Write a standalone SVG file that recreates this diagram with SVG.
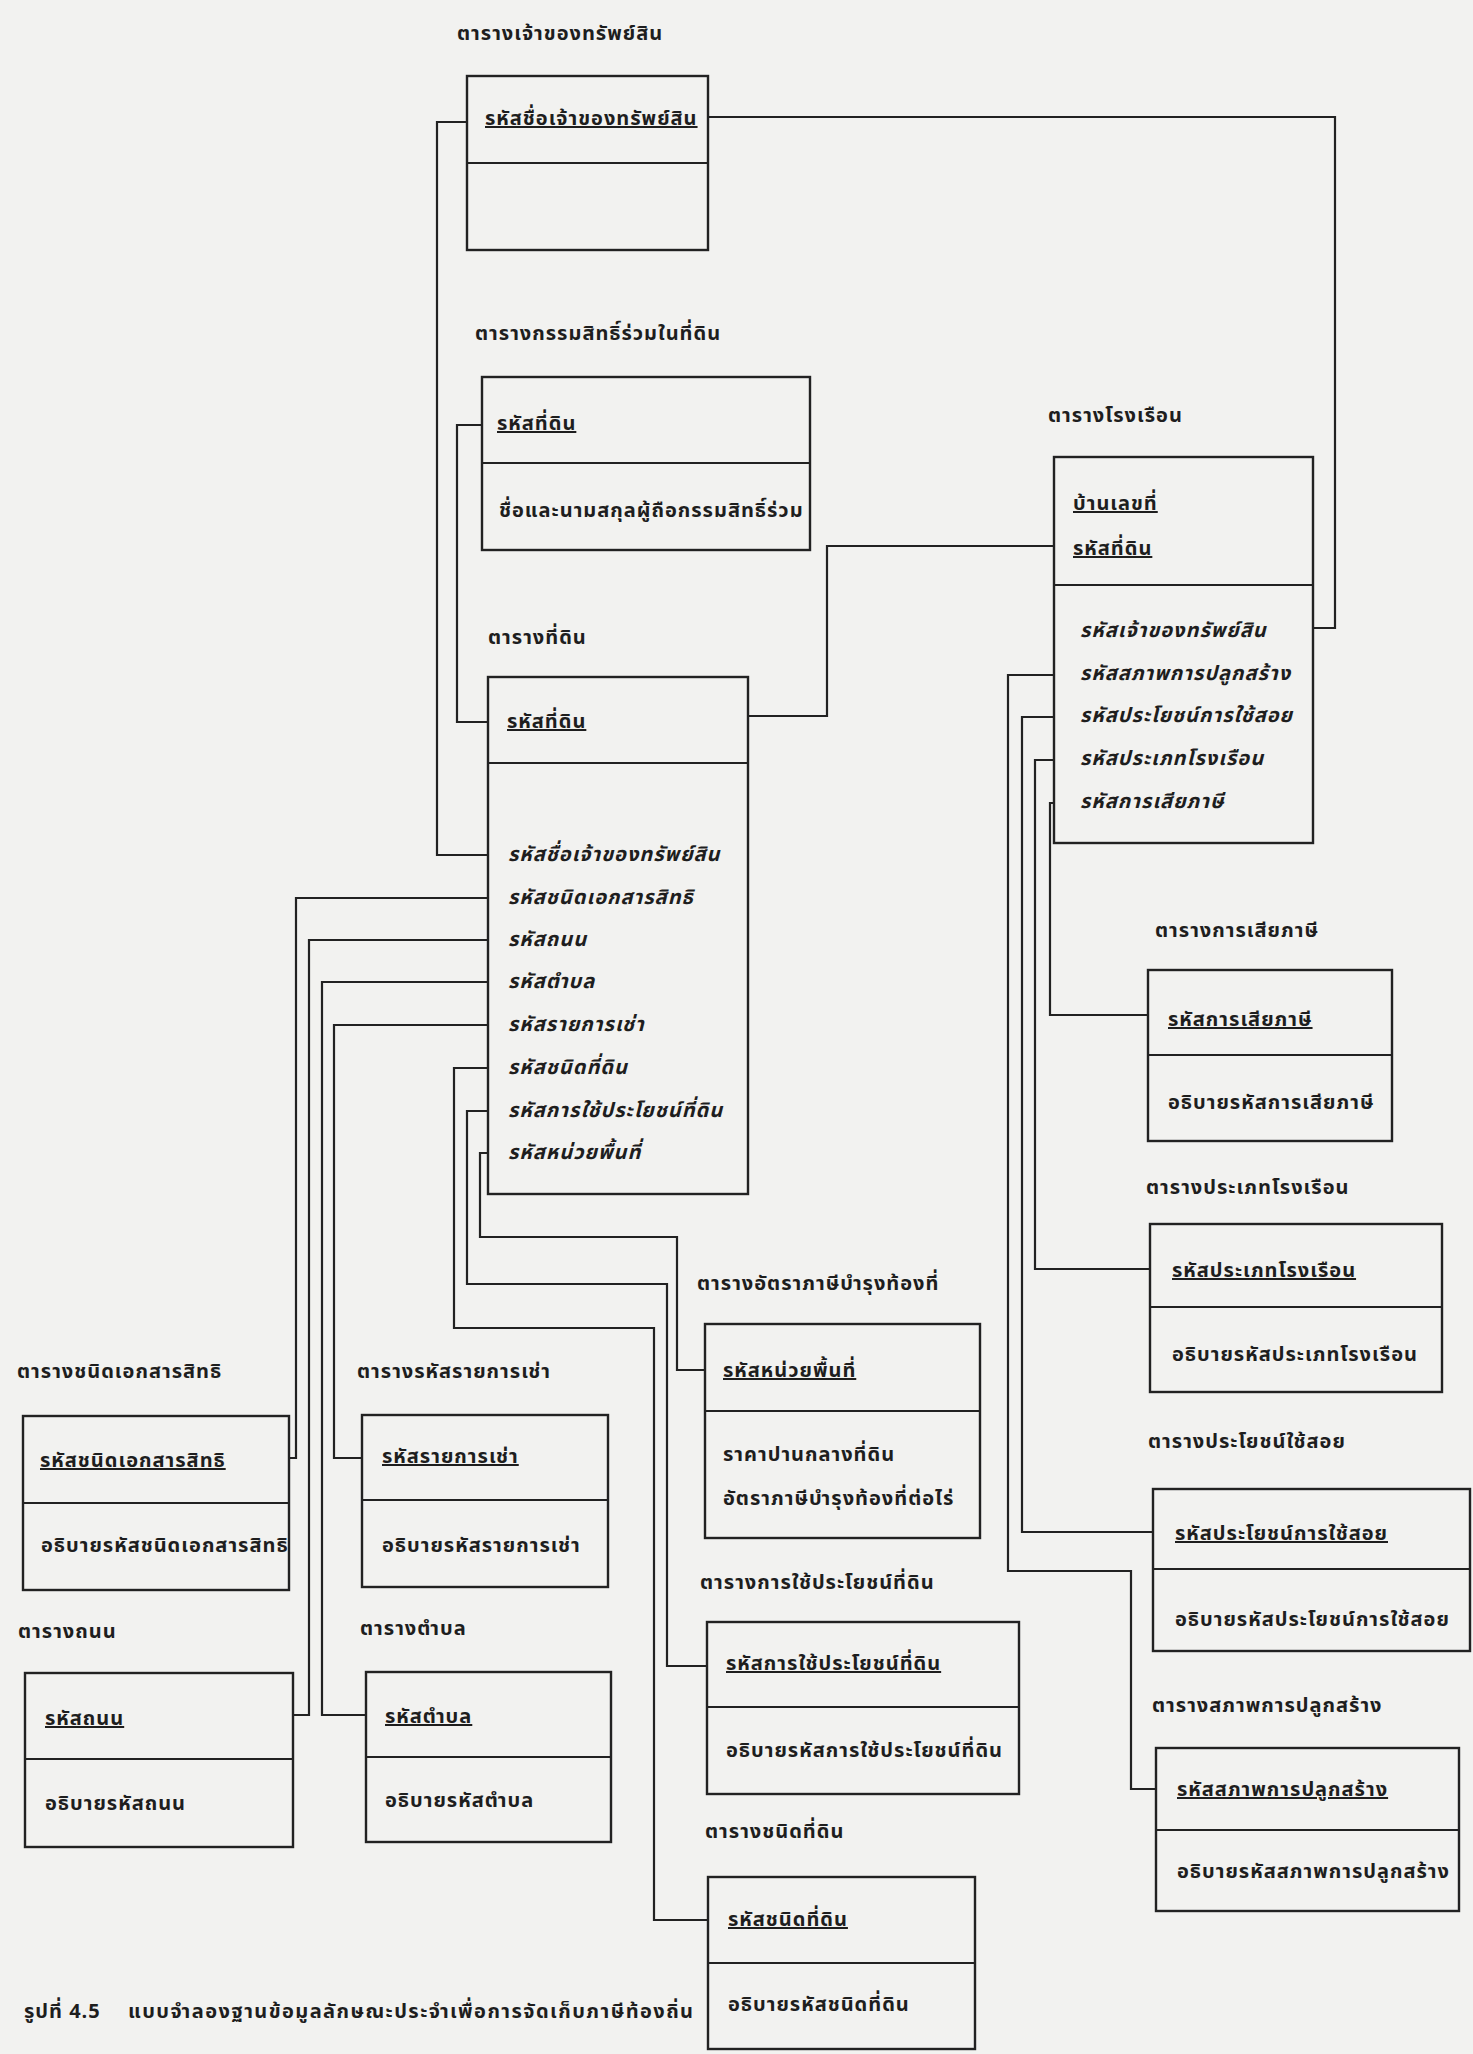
<svg xmlns="http://www.w3.org/2000/svg" width="1473" height="2054" viewBox="0 0 1473 2054">
<style>
text{font-family:"Noto Sans Thai","Noto Sans","DejaVu Sans",sans-serif;font-size:20px;font-weight:bold;fill:#1e1e1e;letter-spacing:1px}
.k{text-decoration:underline}
.a{font-style:italic;font-weight:bold}
.box{fill:none;stroke:#222;stroke-width:2.4}
.div{stroke:#222;stroke-width:2.2}
.conn path{fill:none;stroke:#222;stroke-width:2.2}
</style>
<rect width="1473" height="2054" fill="#f2f2f0"/>
<g class="conn" id="connectors">
<path d="M708 117H1335V628H1313"/>
<path d="M467 122H437V855H488"/>
<path d="M482 425H457V722H488"/>
<path d="M748 716H827V546H1054"/>
<path d="M488 898H296V1458H289"/>
<path d="M488 940H309V1715H293"/>
<path d="M488 982H322V1715H366"/>
<path d="M488 1025H334V1458H362"/>
<path d="M488 1068H454V1328H654V1920H708"/>
<path d="M488 1111H467V1284H667V1666H707"/>
<path d="M488 1153H480V1237H677V1370H705"/>
<path d="M1054 675H1008V1571H1131V1789H1156"/>
<path d="M1054 717H1022V1532H1153"/>
<path d="M1054 760H1035V1269H1150"/>
<path d="M1054 803H1050V1015H1148"/>
</g>
<g id="owner">
<text x="457" y="40">ตารางเจ้าของทรัพย์สิน</text>
<rect class="box" x="467" y="76" width="241" height="174"/>
<line class="div" x1="467" y1="163" x2="708" y2="163"/>
<text class="k" x="485" y="125">รหัสชื่อเจ้าของทรัพย์สิน</text>
</g>
<g id="coowner">
<text x="475" y="340">ตารางกรรมสิทธิ์ร่วมในที่ดิน</text>
<rect class="box" x="482" y="377" width="328" height="173"/>
<line class="div" x1="482" y1="463" x2="810" y2="463"/>
<text class="k" x="497" y="430">รหัสที่ดิน</text>
<text x="499" y="517">ชื่อและนามสกุลผู้ถือกรรมสิทธิ์ร่วม</text>
</g>
<g id="land">
<text x="488" y="644">ตารางที่ดิน</text>
<rect class="box" x="488" y="677" width="260" height="517"/>
<line class="div" x1="488" y1="763" x2="748" y2="763"/>
<text class="k" x="507" y="728">รหัสที่ดิน</text>
<text class="a" x="508" y="861">รหัสชื่อเจ้าของทรัพย์สิน</text>
<text class="a" x="508" y="904">รหัสชนิดเอกสารสิทธิ</text>
<text class="a" x="508" y="946">รหัสถนน</text>
<text class="a" x="508" y="988">รหัสตำบล</text>
<text class="a" x="508" y="1031">รหัสรายการเช่า</text>
<text class="a" x="508" y="1074">รหัสชนิดที่ดิน</text>
<text class="a" x="508" y="1117">รหัสการใช้ประโยชน์ที่ดิน</text>
<text class="a" x="508" y="1159">รหัสหน่วยพื้นที่</text>
</g>
<g id="house">
<text x="1048" y="422" letter-spacing="2">ตารางโรงเรือน</text>
<rect class="box" x="1054" y="457" width="259" height="386"/>
<line class="div" x1="1054" y1="585" x2="1313" y2="585"/>
<text class="k" x="1073" y="510">บ้านเลขที่</text>
<text class="k" x="1073" y="555">รหัสที่ดิน</text>
<text class="a" x="1080" y="637">รหัสเจ้าของทรัพย์สิน</text>
<text class="a" x="1080" y="680">รหัสสภาพการปลูกสร้าง</text>
<text class="a" x="1080" y="722">รหัสประโยชน์การใช้สอย</text>
<text class="a" x="1080" y="765">รหัสประเภทโรงเรือน</text>
<text class="a" x="1080" y="808">รหัสการเสียภาษี</text>
</g>
<g id="taxpay">
<text x="1155" y="937">ตารางการเสียภาษี</text>
<rect class="box" x="1148" y="970" width="244" height="171"/>
<line class="div" x1="1148" y1="1055" x2="1392" y2="1055"/>
<text class="k" x="1168" y="1026">รหัสการเสียภาษี</text>
<text x="1168" y="1109">อธิบายรหัสการเสียภาษี</text>
</g>
<g id="housetype">
<text x="1146" y="1194">ตารางประเภทโรงเรือน</text>
<rect class="box" x="1150" y="1224" width="292" height="168"/>
<line class="div" x1="1150" y1="1307" x2="1442" y2="1307"/>
<text class="k" x="1172" y="1277">รหัสประเภทโรงเรือน</text>
<text x="1172" y="1361">อธิบายรหัสประเภทโรงเรือน</text>
</g>
<g id="usage">
<text x="1148" y="1448">ตารางประโยชน์ใช้สอย</text>
<rect class="box" x="1153" y="1489" width="317" height="162"/>
<line class="div" x1="1153" y1="1569" x2="1470" y2="1569"/>
<text class="k" x="1175" y="1540">รหัสประโยชน์การใช้สอย</text>
<text x="1175" y="1626">อธิบายรหัสประโยชน์การใช้สอย</text>
</g>
<g id="construction">
<text x="1152" y="1712">ตารางสภาพการปลูกสร้าง</text>
<rect class="box" x="1156" y="1748" width="303" height="163"/>
<line class="div" x1="1156" y1="1830" x2="1459" y2="1830"/>
<text class="k" x="1177" y="1796">รหัสสภาพการปลูกสร้าง</text>
<text x="1177" y="1878">อธิบายรหัสสภาพการปลูกสร้าง</text>
</g>
<g id="doctype">
<text x="17" y="1378">ตารางชนิดเอกสารสิทธิ</text>
<rect class="box" x="23" y="1416" width="266" height="174"/>
<line class="div" x1="23" y1="1503" x2="289" y2="1503"/>
<text class="k" x="40" y="1467">รหัสชนิดเอกสารสิทธิ</text>
<text x="41" y="1552">อธิบายรหัสชนิดเอกสารสิทธิ</text>
</g>
<g id="road">
<text x="18" y="1638">ตารางถนน</text>
<rect class="box" x="25" y="1673" width="268" height="174"/>
<line class="div" x1="25" y1="1759" x2="293" y2="1759"/>
<text class="k" x="45" y="1725">รหัสถนน</text>
<text x="45" y="1810">อธิบายรหัสถนน</text>
</g>
<g id="lease">
<text x="357" y="1378">ตารางรหัสรายการเช่า</text>
<rect class="box" x="362" y="1415" width="246" height="172"/>
<line class="div" x1="362" y1="1500" x2="608" y2="1500"/>
<text class="k" x="382" y="1463">รหัสรายการเช่า</text>
<text x="382" y="1552">อธิบายรหัสรายการเช่า</text>
</g>
<g id="tambon">
<text x="360" y="1635">ตารางตำบล</text>
<rect class="box" x="366" y="1672" width="245" height="170"/>
<line class="div" x1="366" y1="1757" x2="611" y2="1757"/>
<text class="k" x="385" y="1723">รหัสตำบล</text>
<text x="385" y="1807">อธิบายรหัสตำบล</text>
</g>
<g id="taxrate">
<text x="697" y="1290">ตารางอัตราภาษีบำรุงท้องที่</text>
<rect class="box" x="705" y="1324" width="275" height="214"/>
<line class="div" x1="705" y1="1411" x2="980" y2="1411"/>
<text class="k" x="723" y="1377">รหัสหน่วยพื้นที่</text>
<text x="723" y="1461">ราคาปานกลางที่ดิน</text>
<text x="723" y="1505">อัตราภาษีบำรุงท้องที่ต่อไร่</text>
</g>
<g id="landuse">
<text x="700" y="1589">ตารางการใช้ประโยชน์ที่ดิน</text>
<rect class="box" x="707" y="1622" width="312" height="172"/>
<line class="div" x1="707" y1="1707" x2="1019" y2="1707"/>
<text class="k" x="726" y="1670">รหัสการใช้ประโยชน์ที่ดิน</text>
<text x="726" y="1757">อธิบายรหัสการใช้ประโยชน์ที่ดิน</text>
</g>
<g id="landtype">
<text x="705" y="1838">ตารางชนิดที่ดิน</text>
<rect class="box" x="708" y="1877" width="267" height="172"/>
<line class="div" x1="708" y1="1963" x2="975" y2="1963"/>
<text class="k" x="728" y="1926">รหัสชนิดที่ดิน</text>
<text x="728" y="2011">อธิบายรหัสชนิดที่ดิน</text>
</g>
<g id="caption">
<text x="24" y="2018" letter-spacing="2">รูปที่ 4.5</text>
<text x="128" y="2018" textLength="566" lengthAdjust="spacing">แบบจำลองฐานข้อมูลลักษณะประจำเพื่อการจัดเก็บภาษีท้องถิ่น</text>
</g>
</svg>
